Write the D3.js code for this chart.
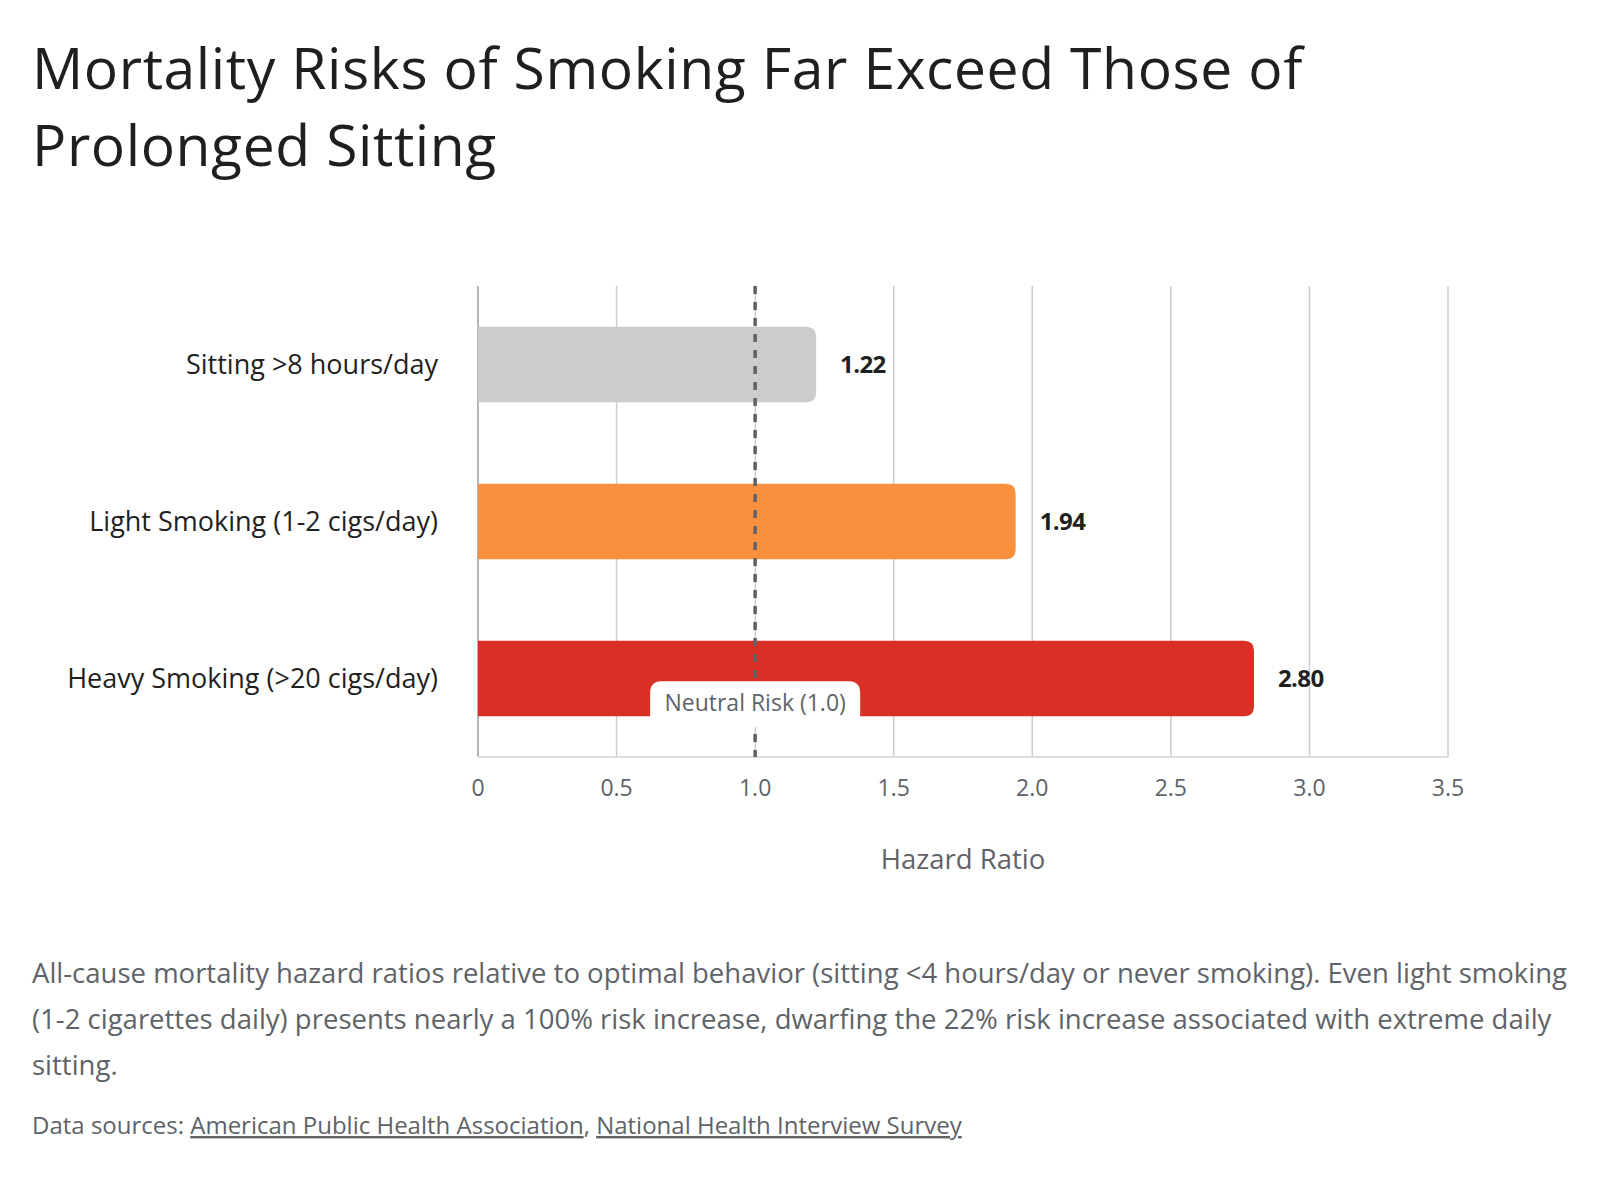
<!DOCTYPE html>
<html>
<head>
<meta charset="utf-8">
<script src="https://cdn.jsdelivr.net/npm/d3@7/dist/d3.min.js"></script>
<style>
  html, body { margin: 0; padding: 0; background: #ffffff; }
  svg { display: block; font-family: "Open Sans", Roboto, sans-serif; }
</style>
</head>
<body>
<svg id="chart" width="1600" height="1200"></svg>
<script>
const categories = ["Sitting >8 hours/day", "Light Smoking (1-2 cigs/day)", "Heavy Smoking (>20 cigs/day)"];
const values = [1.22, 1.94, 2.80];
const valueLabels = ["1.22", "1.94", "2.80"];
const barColors = ["#cccccc", "#fa903e", "#d93025"];
const xTicks = [0, 0.5, 1.0, 1.5, 2.0, 2.5, 3.0, 3.5];
const xTickLabels = ["0", "0.5", "1.0", "1.5", "2.0", "2.5", "3.0", "3.5"];
const referenceValue = 1.0;
const referenceLabel = "Neutral Risk (1.0)";
const titleLines = ["Mortality Risks of Smoking Far Exceed Those of", "Prolonged Sitting"];
const axisTitle = "Hazard Ratio";
const captionLines = [
  "All-cause mortality hazard ratios relative to optimal behavior (sitting <4 hours/day or never smoking). Even light smoking",
  "(1-2 cigarettes daily) presents nearly a 100% risk increase, dwarfing the 22% risk increase associated with extreme daily",
  "sitting."
];
const sources = ["American Public Health Association", "National Health Interview Survey"];

const svg = d3.select("#chart");

// Title
svg.append("text")
  .attr("font-size", 57).attr("fill", "#1f1f1f").attr("letter-spacing", 0.6)
  .selectAll("tspan").data(titleLines).join("tspan")
  .attr("x", 32).attr("y", (d, i) => 89 + i * 77)
  .text(d => d);

const margin = { left: 478, right: 1448, top: 286, bottom: 757 };
const x = d3.scaleLinear().domain([0, 3.5]).range([margin.left, margin.right]);
const y = d3.scaleBand().domain(categories).range([margin.top, margin.bottom])
  .paddingInner(0.52).paddingOuter(0.26);

// Gridlines
svg.append("g").selectAll("line").data(xTicks).join("line")
  .attr("x1", d => x(d)).attr("x2", d => x(d))
  .attr("y1", margin.top).attr("y2", margin.bottom)
  .attr("stroke", (d) => d === 0 ? "#b5b5b5" : "#cccccc")
  .attr("stroke-width", (d) => d === 0 ? 2 : 1.5);

// Bottom axis line
svg.append("line")
  .attr("x1", margin.left).attr("x2", margin.right)
  .attr("y1", margin.bottom).attr("y2", margin.bottom)
  .attr("stroke", "#dddddd").attr("stroke-width", 2);

// Bars with rounded right end
const r = 10;
function barPath(d, i) {
  const x0 = x(0), x1 = x(values[i]);
  const y0 = y(categories[i]), h = y.bandwidth();
  return `M${x0},${y0} H${x1 - r} Q${x1},${y0} ${x1},${y0 + r} V${y0 + h - r} Q${x1},${y0 + h} ${x1 - r},${y0 + h} H${x0} Z`;
}
svg.append("g").selectAll("path").data(values).join("path")
  .attr("d", barPath)
  .attr("fill", (d, i) => barColors[i]);

// Value labels
svg.append("g").selectAll("text").data(values).join("text")
  .attr("x", (d) => x(d) + 24)
  .attr("y", (d, i) => y(categories[i]) + y.bandwidth() / 2)
  .attr("dy", "0.35em")
  .attr("font-size", 24).attr("font-weight", 700).attr("fill", "#1f1f1f")
  .attr("letter-spacing", -0.6)
  .text((d, i) => valueLabels[i]);

// Category labels
svg.append("g").selectAll("text").data(categories).join("text")
  .attr("x", 438)
  .attr("y", d => y(d) + y.bandwidth() / 2)
  .attr("dy", "0.35em")
  .attr("text-anchor", "end")
  .attr("font-size", 27).attr("fill", "#1f1f1f")
  .text(d => d);

// Reference dashed line
svg.append("line")
  .attr("x1", x(referenceValue)).attr("x2", x(referenceValue))
  .attr("y1", margin.top).attr("y2", margin.bottom)
  .attr("stroke", "#5f6368").attr("stroke-width", 3.5)
  .attr("stroke-dasharray", "8,8");

// Reference label box
const labelW = 210, labelH = 46;
const lastBand = y(categories[categories.length - 1]) + y.bandwidth();
svg.append("rect")
  .attr("x", x(referenceValue) - labelW / 2)
  .attr("y", lastBand - 35)
  .attr("width", labelW).attr("height", labelH)
  .attr("rx", 10).attr("fill", "#ffffff");
svg.append("text")
  .attr("x", x(referenceValue)).attr("y", lastBand - 35 + 30)
  .attr("text-anchor", "middle")
  .attr("font-size", 23).attr("fill", "#5f6368")
  .text(referenceLabel);

// Tick labels
svg.append("g").selectAll("text").data(xTicks).join("text")
  .attr("x", d => x(d)).attr("y", 796)
  .attr("text-anchor", "middle")
  .attr("font-size", 23).attr("fill", "#5f6368")
  .text((d, i) => xTickLabels[i]);

// Axis title
svg.append("text")
  .attr("x", (margin.left + margin.right) / 2).attr("y", 869)
  .attr("text-anchor", "middle")
  .attr("font-size", 27.5).attr("fill", "#5f6368")
  .text(axisTitle);

// Caption
svg.append("text")
  .attr("font-size", 27.5).attr("fill", "#5f6368")
  .selectAll("tspan").data(captionLines).join("tspan")
  .attr("x", 32).attr("y", (d, i) => 983 + i * 46)
  .text(d => d);

// Sources
const src = svg.append("text")
  .attr("x", 32).attr("y", 1134)
  .attr("font-size", 24).attr("fill", "#5f6368");
src.append("tspan").text("Data sources: ");
src.append("tspan").attr("text-decoration", "underline").text(sources[0]);
src.append("tspan").text(", ");
src.append("tspan").attr("text-decoration", "underline").text(sources[1]);
</script>
</body>
</html>
